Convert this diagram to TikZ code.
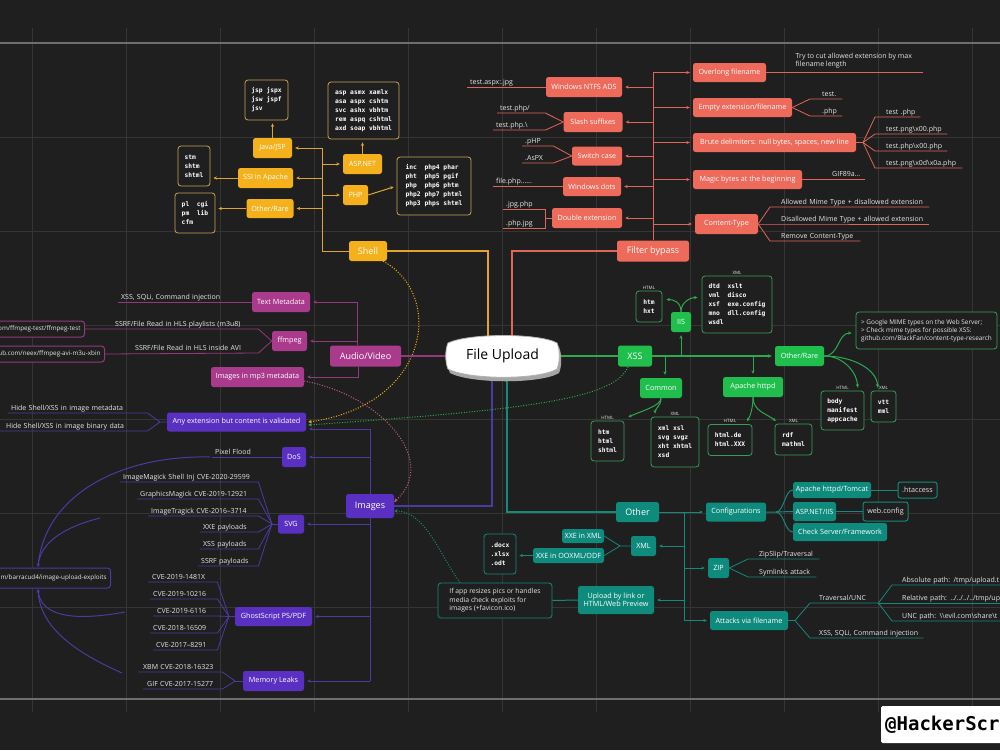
\documentclass[tikz,border=0pt]{standalone}
\usepackage{fontspec}
\setmainfont{Open Sans}
\setmonofont{DejaVu Sans Mono}
\usetikzlibrary{arrows.meta}
\pgfdeclarelayer{back}
\pgfdeclarelayer{lines}
\pgfsetlayers{back,lines,main}
\definecolor{bg}{HTML}{1F1F1F}
\definecolor{gridc}{HTML}{353535}
\definecolor{gridb}{HTML}{6E6E6E}
\definecolor{txt}{HTML}{E6E6E6}
\definecolor{cOr}{HTML}{F4B11C}
\definecolor{cOrL}{HTML}{E0A530}
\definecolor{cOrB}{HTML}{C9A255}
\definecolor{cRed}{HTML}{EE6A5A}
\definecolor{cRedL}{HTML}{E0655A}
\definecolor{cMag}{HTML}{A93A8C}
\definecolor{cMagL}{HTML}{94387E}
\definecolor{cPink}{HTML}{C25A8E}
\definecolor{cInd}{HTML}{5A30C2}
\definecolor{cIndL}{HTML}{4D3AA0}
\definecolor{cGrn}{HTML}{1FBE4D}
\definecolor{cGrnL}{HTML}{2DA950}
\definecolor{cGrnB}{HTML}{3A9C58}
\definecolor{cTeal}{HTML}{0F8B7E}
\definecolor{cTealL}{HTML}{14897C}
\tikzset{
  nb/.style={rounded corners=2.5pt, inner sep=1pt, align=center, text=white, font=\fontsize{7.2}{8.5}\selectfont},
  bigf/.style={font=\fontsize{9}{10}\selectfont},
  sz/.style 2 args={minimum width=#1pt, minimum height=#2pt},
  orn/.style={nb, fill=cOr},
  rdn/.style={nb, fill=cRed},
  mgn/.style={nb, fill=cMag},
  inn/.style={nb, fill=cInd},
  gnn/.style={nb, fill=cGrn},
  tln/.style={nb, fill=cTeal},
  codebox/.style={draw, line width=0.8pt, rounded corners=3pt, fill=bg, inner xsep=5pt, inner ysep=3pt, align=left, text=white, font=\ttfamily\bfseries\fontsize{6.3}{9}\selectfont},
  notebox/.style={draw, line width=0.8pt, rounded corners=3pt, fill=bg, inner xsep=5pt, inner ysep=3pt, align=left, text=txt, font=\fontsize{6.4}{8}\selectfont},
  tlab/.style={font=\fontsize{4.5}{5}\selectfont, text=txt, inner sep=1pt},
  ulab/.style={font=\fontsize{7}{8}\selectfont, text=txt, inner xsep=3pt, inner ysep=1.2pt, text height=5.2pt, text depth=1.6pt, anchor=south west, align=left,
    execute at begin node={\leavevmode\hbox\bgroup}, execute at end node={\egroup}},
  lnTk/.style={line width=1.6pt},
  lnN/.style={line width=1pt},
  lnF/.style={line width=0.8pt},
  arrw/.style={lnN, -{Stealth[length=3.5pt,width=3.2pt]}, shorten >=3pt},
  dotcurve/.style={line width=1pt, dash pattern=on 1pt off 1.6pt, -{Stealth[length=3.5pt,width=3.2pt]}},
  lnO/.style={draw=cOrL, lnN}, arO/.style={draw=cOrL, arrw},
  lnR/.style={draw=cRedL, lnN}, arR/.style={draw=cRedL, arrw},
  lnM/.style={draw=cMagL, lnN}, arM/.style={draw=cMagL, arrw},
  lnI/.style={draw=cIndL, lnN}, arI/.style={draw=cIndL, arrw},
  lnG/.style={draw=cGrnL, lnN}, arG/.style={draw=cGrnL, arrw},
  lnT/.style={draw=cTealL, lnN}, arT/.style={draw=cTealL, arrw},
}
\begin{document}
\begin{tikzpicture}[x=1pt,y=-1pt]
\useasboundingbox (0,0) rectangle (1000,750);
\begin{pgfonlayer}{back}
\fill[bg] (0,0) rectangle (1000,750);
\foreach \gx in {32,126,...,972} \draw[gridc, line width=1pt] (\gx,28) -- (\gx,712);
\foreach \gy in {137,231,...,607} \draw[gridc, line width=1pt] (0,\gy) -- (1000,\gy);
\draw[gridb, line width=1.6pt] (0,43) -- (1000,43);
\draw[gridb, line width=1.6pt] (0,699) -- (1000,699);
\end{pgfonlayer}

% ---------- centre ----------
\fill[gray!70] (450,347) .. controls (471,337) and (541,337) .. (559,347) .. controls (562,354) and (562,366) .. (559,373) .. controls (541,384) and (471,384) .. (450,373) .. controls (447,366) and (447,354) .. (450,347) -- cycle;
\filldraw[fill=white, draw=gray!60, line width=0.8pt] (448,343) .. controls (469,333) and (539,333) .. (557,343) .. controls (560,350) and (560,362) .. (557,369) .. controls (539,380) and (469,380) .. (448,369) .. controls (445,362) and (445,350) .. (448,343) -- cycle;
\node[font=\fontsize{14}{16}\selectfont, text=black, minimum width=110pt, minimum height=36pt, inner sep=0pt] (fu) at (502.5,356) {File Upload};

% ---------- orange : Shell ----------
\node[orn, bigf, sz={38}{20}] (shell) at (368,251) {Shell};
\node[orn, sz={39}{20}] (java) at (272.5,148) {Java/JSP};
\node[orn, sz={55}{20}] (ssi) at (265.5,178) {SSI in Apache};
\node[orn, sz={47}{19}] (othr) at (270,208.5) {Other/Rare};
\node[orn, sz={39}{20}] (asp) at (362.5,164) {ASP.NET};
\node[orn, sz={25}{20}] (php) at (355.5,195) {PHP};
\node[codebox, draw=cOrB, sz={43}{40}] (javabox) at (266.5,100) {jsp~jspx\\jsw~jspf\\jsv};
\node[codebox, draw=cOrB, sz={71}{57}] (aspbox) at (363.5,110.5) {asp~asmx~xamlx\\asa~aspx~cshtm\\svc~ashx~vbhtm\\rem~aspq~cshtml\\axd~soap~vbhtml};
\node[codebox, draw=cOrB, sz={74}{58}] (phpbox) at (434,186) {inc~~php4~phar\\pht~~php5~pgif\\php~~php6~phtm\\php2~php7~phtml\\php3~phps~shtml};
\node[codebox, draw=cOrB, sz={32}{40}] (ssibox) at (194,166) {stm\\shtm\\shtml};
\node[codebox, draw=cOrB, sz={40}{40}] (othbox) at (195,213) {pl~~cgi\\pm~~lib\\cfm};

% ---------- red : Filter bypass ----------
\node[rdn, bigf, sz={72}{21}] (fb) at (653,251) {Filter bypass};
\node[rdn, sz={76}{20}] (ntfs) at (584,87) {Windows NTFS ADS};
\node[rdn, sz={59}{20}] (slash) at (593,122) {Slash suffixes};
\node[rdn, sz={50}{19}] (swc) at (597,156) {Switch case};
\node[rdn, sz={58}{19}] (wdots) at (592,186.5) {Windows dots};
\node[rdn, sz={70}{20}] (dext) at (587,218) {Double extension};
\node[rdn, sz={73}{19}] (ovl) at (729.5,72.5) {Overlong filename};
\node[rdn, sz={99}{19}] (emp) at (742.5,107.5) {Empty extension/filename};
\node[rdn, sz={163}{19}] (brute) at (774.5,142.5) {Brute delimiters: null bytes, spaces, new line};
\node[rdn, sz={109}{19}] (magic) at (747.5,179.5) {Magic bytes at the beginning};
\node[rdn, sz={63}{20}] (ctype) at (726.5,224) {Content-Type};

\node[ulab, text width=73pt] (r1) at (467,87) {test.aspx:.jpg};
\node[ulab, text width=42pt] (r2) at (497,113) {test.php/};
\node[ulab, text width=46pt] (r3) at (493,130) {test.php.\textbackslash};
\node[ulab, text width=25pt] (r4) at (522,146) {.pHP};
\node[ulab, text width=25pt] (r5) at (522,163) {.AsPX};
\node[ulab, text width=64pt] (r6) at (493,186.5) {file.php......};
\node[ulab, text width=36pt] (r7) at (503,209) {.jpg.php};
\node[ulab, text width=36pt] (r8) at (503,228) {.php.jpg};
\node[font=\fontsize{7}{8}\selectfont, text=txt, anchor=south west, align=left, inner sep=1.5pt] (r9) at (794,70) {Try to cut allowed extension by max\\filename length};
\coordinate (ovlend) at (923,72.5);
\node[ulab, text width=26pt] (r10) at (810,99) {\hspace*{9pt}test.};
\node[ulab, text width=26pt] (r11) at (810,116) {\hspace*{9pt}.php};
\node[ulab, text width=39pt] (r12) at (875,117) {\hspace*{8pt}test .php};
\node[ulab, text width=66pt] (r13) at (875,134) {\hspace*{8pt}test.png\textbackslash x00.php};
\node[ulab, text width=66pt] (r14) at (875,151) {\hspace*{8pt}test.php\textbackslash x00.php};
\node[ulab, text width=81pt] (r15) at (875,168) {\hspace*{8pt}test.png\textbackslash x0d\textbackslash x0a.php};
\coordinate (bf) at (863,142.5);
\node[ulab, text width=30pt] (r16) at (829,179.5) {GIF89a...};
\node[ulab, text width=153pt] (r17) at (770,207) {\hspace*{8pt}Allowed Mime Type + disallowed extension};
\node[ulab, text width=153pt] (r18) at (770,224) {\hspace*{8pt}Disallowed Mime Type + allowed extension};
\node[ulab, text width=84pt] (r19) at (770,241) {\hspace*{8pt}Remove Content-Type};

% ---------- magenta : Audio/Video ----------
\node[mgn, bigf, sz={71}{21}] (av) at (365.5,356) {Audio/Video};
\node[mgn, sz={58}{20}] (tm) at (281,302) {Text Metadata};
\node[mgn, sz={35}{20}] (ff) at (289.5,341) {ffmpeg};
\node[mgn, sz={93}{20}] (mp3) at (257.5,377) {Images in mp3 metadata};
\node[ulab, text width=128pt] (m1) at (118,302) {XSS, SQLi, Command injection};
\node[ulab, text width=167pt] (m2) at (85,329) {\hspace*{27pt}SSRF/File Read in HLS playlists (m3u8)};
\node[ulab, text width=147pt] (m3) at (105,353) {\hspace*{27pt}SSRF/File Read in HLS inside AVI};
\node[draw=cMagL, lnN, rounded corners=3pt, fill=bg, text=txt, font=\fontsize{6.3}{8}\selectfont, anchor=east, text width=100pt, align=right, inner xsep=4pt, minimum height=16pt] (gh1) at (85,329) {om/ffmpeg-test/ffmpeg-test};
\node[draw=cMagL, lnN, rounded corners=3pt, fill=bg, text=txt, font=\fontsize{6.3}{8}\selectfont, anchor=east, text width=120pt, align=right, inner xsep=4pt, minimum height=16pt] (gh2) at (105,354) {ub.com/neex/ffmpeg-avi-m3u-xbin};

% ---------- indigo : Images ----------
\node[inn, bigf, sz={48}{24}] (img) at (370,506) {Images};
\node[inn, sz={139}{19}] (anyx) at (236.5,422) {Any extension but content is validated};
\node[inn, sz={24}{20}] (dos) at (294,457) {DoS};
\node[inn, sz={26}{19}] (svg) at (291,524) {SVG};
\node[inn, sz={77}{19}] (gs) at (273.5,616.5) {GhostScript PS/PDF};
\node[inn, sz={61}{20}] (mem) at (273.5,681) {Memory Leaks};
\node[ulab, text width=133pt] (i1) at (8,413) {Hide Shell/XSS in image metadata};
\node[ulab, text width=141pt] (i2) at (0,431) {\hspace*{3pt}Hide Shell/XSS in image binary data};
\coordinate (anf) at (160,422);
\node[ulab, text width=64pt] (i3) at (212,457) {Pixel Flood};
\node[ulab, text width=132pt] (s1) at (120,482) {ImageMagick Shell Inj CVE-2020-29599};
\node[ulab, text width=115pt] (s2) at (137,499) {GraphicsMagick CVE-2019-12921};
\node[ulab, text width=104pt] (s3) at (148,516) {ImageTragick CVE-2016–3714};
\node[ulab, text width=52pt] (s4) at (200,532) {XXE payloads};
\node[ulab, text width=52pt] (s5) at (200,549) {XSS payloads};
\node[ulab, text width=54pt] (s6) at (198,566) {SSRF payloads};
\coordinate (svf) at (272,524);
\node[ulab, text width=63pt] (g1) at (148,582) {\hspace*{1pt}CVE-2019-1481X};
\node[ulab, text width=61pt] (g2) at (150,599) {\hspace*{0pt}CVE-2019-10216};
\node[ulab, text width=58pt] (g3) at (153,616) {\hspace*{1pt}CVE-2019-6116};
\node[ulab, text width=61pt] (g4) at (150,633) {\hspace*{0pt}CVE-2018-16509};
\node[ulab, text width=58pt] (g5) at (153,650) {\hspace*{0pt}CVE-2017–8291};
\coordinate (gsf) at (229,616.5);
\node[ulab, text width=78pt] (x1) at (138,672) {\hspace*{2pt}XBM CVE-2018-16323};
\node[ulab, text width=73pt] (x2) at (143,689) {\hspace*{1pt}GIF CVE-2017-15277};
\coordinate (mmf) at (235,681);
\node[draw=cIndL, lnN, rounded corners=3pt, fill=bg, text=txt, font=\fontsize{6.3}{8}\selectfont, anchor=east, text width=125pt, align=right, inner xsep=4pt, minimum height=20pt] (ex) at (111,578) {m/barracud4/image-upload-exploits};
\coordinate (exT) at (38,567);
\coordinate (exB) at (38,589);
\coordinate (cvb) at (100,518);
\coordinate (cvc) at (125,612);
\coordinate (cvd) at (122,673);

% ---------- green : XSS ----------
\node[gnn, bigf, sz={34}{21}] (xss) at (635,356) {XSS};
\node[gnn, sz={20}{20}] (iis) at (681,322) {IIS};
\node[gnn, sz={42}{20}] (com) at (661,388) {Common};
\node[gnn, sz={60}{20}] (ap) at (753,387) {Apache httpd};
\node[gnn, sz={49}{20}] (orr) at (799.5,356) {Other/Rare};
\node[codebox, draw=cGrnB, sz={26}{31}, label={[tlab]above:HTML}] (iishtml) at (649,306.5) {htm\\hxt};
\node[codebox, draw=cGrnB, sz={70}{57}, label={[tlab]above:XML}] (iisxml) at (737,304.5) {dtd~~xslt\\vml~~disco\\xsf~~exe.config\\mno~~dll.config\\wsdl};
\node[codebox, draw=cGrnB, sz={33}{40}, label={[tlab]above:HTML}] (comhtml) at (607.5,441) {htm\\html\\shtml};
\node[codebox, draw=cGrnB, sz={48}{50}, label={[tlab]above:XML}] (comxml) at (675,442) {xml~xsl\\svg~svgz\\xht~xhtml\\xsd};
\node[codebox, draw=cGrnB, sz={44}{31}, label={[tlab]above:HTML}] (aphtml) at (730,440) {html.de\\html.XXX};
\node[codebox, draw=cGrnB, sz={37}{31}, label={[tlab]above:XML}] (apxml) at (793.5,439.5) {rdf\\mathml};
\node[codebox, draw=cGrnB, sz={43}{39}, label={[tlab]above:HTML}] (orhtml) at (842.5,410.5) {body\\manifest\\appcache};
\node[codebox, draw=cGrnB, sz={25}{31}, label={[tlab]above:XML}] (orxml) at (883.5,406.5) {vtt\\mml};
\node[notebox, draw=cGrnB, sz={141}{37}] (note) at (926.5,330.5) {> Google MIME types on the Web Server;\\> Check mime types for possible XSS:\\github.com/BlackFan/content-type-research};

% ---------- teal : Other ----------
\node[tln, bigf, sz={43}{20}] (oth) at (637.5,512) {Other};
\node[tln, sz={60}{19}] (cfg) at (736,512) {Configurations};
\node[tln, sz={25}{20}] (xmlT) at (643.5,546) {XML};
\node[tln, sz={21}{20}] (zip) at (718.5,568) {ZIP};
\node[tln, sz={76}{28}] (upl) at (616,600) {Upload by link or\\HTML/Web Preview};
\node[tln, sz={78}{19}] (att) at (749,620.5) {Attacks via filename};
\node[tln, sz={42}{14}] (xxe1) at (583,536) {XXE in XML};
\node[tln, sz={71}{15}] (xxe2) at (568.5,555.5) {XXE in OOXML/ODF};
\node[tln, sz={78}{16}] (tom) at (832,490) {Apache httpd/Tomcat};
\node[tln, sz={43}{19}] (aspiis) at (814.5,511.5) {ASP.NET/IIS};
\node[tln, sz={94}{18}] (chk) at (840,532) {Check Server/Framework};
\node[nb, draw=cTealL, lnN, fill=bg, text=txt, sz={39}{16}] (htac) at (917.5,490) {.htaccess};
\node[nb, draw=cTealL, lnN, fill=bg, text=txt, sz={45}{19}] (webc) at (885.5,511.5) {web.config};
\node[codebox, draw=cTealL, sz={32}{40}] (docs) at (500,554) {.docx\\.xlsx\\.odt};
\node[notebox, draw=cTealL, sz={114}{35}, font=\fontsize{6.8}{8.5}\selectfont] (rnote) at (495,600.5) {If app resizes pics or handles\\media check exploits for\\images (+favicon.ico)};
\coordinate (tt) at (684,512);
\coordinate (tb) at (684,620.5);
\coordinate (xmf) at (620,546);
\coordinate (cff) at (776,512);
\coordinate (attf) at (795,620.5);
\node[ulab, text width=65pt] (t1) at (748,559) {\hspace*{8pt}ZipSlip/Traversal};
\node[ulab, text width=62pt] (t2) at (748,577) {\hspace*{8pt}Symlinks attack};
\node[ulab, text width=62pt] (t3) at (810,603) {\hspace*{6pt}Traversal/UNC};
\node[ulab, text width=107pt] (t4) at (810,638) {\hspace*{6pt}XSS, SQLi, Command injection};
\node[ulab, text width=102pt] (t5) at (892,585) {\hspace*{7pt}Absolute path: /tmp/upload.t};
\node[ulab, text width=102pt] (t6) at (892,603) {\hspace*{7pt}Relative path: ../../../../tmp/up};
\node[ulab, text width=102pt] (t7) at (892,621) {\hspace*{7pt}UNC path: \textbackslash\textbackslash evil.com\textbackslash share\textbackslash t};

% ---------- watermark ----------
\fill[white, rounded corners=1.5pt] (881,706) rectangle (1004,743);
\node[anchor=west, font=\ttfamily\bfseries\fontsize{19}{20}\selectfont, text=black, inner sep=0pt] (wm) at (885,725) {@HackerScr};

% ================= connectors =================
\begin{pgfonlayer}{lines}
% orange
\draw[lnTk, cOrL] ([xshift=-14.5pt]fu.north) |- (shell.east);
\coordinate (ot) at (322,148);
\draw[lnO] (shell.west) -| (ot);
\draw[arO] (ot) -- (java.east);
\draw[arO] (ot |- ssi.east) -- (ssi.east);
\draw[arO] (ot |- othr.east) -- (othr.east);
\draw[arO] (ot |- asp.west) -- (asp.west);
\draw[arO] (ot |- php.west) -- (php.west);
\draw[arO] (java.north) -- (java.north |- javabox.south);
\draw[arO] (asp.north) -- (asp.north |- aspbox.south);
\draw[arO] (php.east) -- (phpbox.west);
\draw[arO] (ssi.west) -- (ssibox.east |- ssi.west);
\draw[arO] (othr.west) -- (othbox.east |- othr.west);
\draw[dotcurve, draw=cOr] ([xshift=-4pt]shell.south east) .. controls (445,295) and (430,405) .. ([xshift=2pt]anyx.east);
% red
\draw[lnTk, cRedL] ([xshift=9.5pt]fu.north) |- (fb.west);
\draw[lnR] (fb.north) -- (fb.north |- ovl.west);
\foreach \n in {ntfs,slash,swc,wdots,dext} \draw[arR] (fb.north |- \n.east) -- (\n.east);
\foreach \n in {ovl,emp,brute,magic,ctype} \draw[arR] (fb.north |- \n.west) -- (\n.west);
\draw[lnR] (ntfs.west) -- (r1.south west);
\draw[lnR, lnF] (slash.west) -- (r2.south east) -- (r2.south west);
\draw[lnR, lnF] (slash.west) -- (r3.south east) -- (r3.south west);
\draw[lnR, lnF] (swc.west) -- (r4.south east) -- (r4.south west);
\draw[lnR, lnF] (swc.west) -- (r5.south east) -- (r5.south west);
\draw[lnR] (wdots.west) -- (r6.south west);
\draw[lnR] (dext.west) -- (r7.south east |- dext.west);
\draw[lnR, lnF] (r7.south west) -- (r7.south east) -- (r8.south east) -- (r8.south west);
\draw[lnR] (ovl.east) -- (ovlend);
\draw[lnR, lnF] (emp.east) -- (r10.south west) -- (r10.south east);
\draw[lnR, lnF] (emp.east) -- (r11.south west) -- (r11.south east);
\draw[lnR] (brute.east) -- (bf);
\foreach \n in {r12,r13,r14,r15} \draw[lnR, lnF] (bf) -- (\n.south west) -- (\n.south east);
\draw[lnR] (magic.east) -- (r16.south east);
\foreach \n in {r17,r18,r19} \draw[lnR, lnF] (ctype.east) -- (\n.south west) -- (\n.south east);
% magenta
\draw[lnTk, cMagL] (fu.west) -- (av.east);
\coordinate (mt) at (357,302);
\draw[lnM] ([xshift=-8.5pt]av.north) -- (mt);
\draw[arM] (mt) -- (tm.east);
\draw[arM] (mt |- ff.east) -- (ff.east);
\draw[arM] ([xshift=-7.5pt]av.south) |- (mp3.east);
\draw[lnM] (tm.west) -- (m1.south west);
\draw[lnM, lnF] (ff.west) -- (m2.south east) -- (gh1.east);
\draw[lnM, lnF] (ff.west) -- (m3.south east) -- (gh2.east);
\draw[dotcurve, draw=cPink] ([yshift=-4pt]mp3.east) .. controls (380,395) and (440,460) .. ([yshift=4pt]img.east);
% indigo
\draw[lnTk, cIndL] ([xshift=-10.5pt]fu.south) |- (img.east);
\draw[arI] (img.north) |- ([yshift=-7pt]anyx.east);
\draw[arI] (img.north |- dos.east) -- (dos.east);
\draw[lnI] (img.south) -- (img.south |- mem.east);
\draw[arI] (img.south |- svg.east) -- (svg.east);
\draw[arI] (img.south |- gs.east) -- (gs.east);
\draw[arI] (img.south |- mem.east) -- (mem.east);
\draw[lnI, lnF] (anyx.west) -- (anf) -- (i1.south east) -- (i1.south west);
\draw[lnI, lnF] (anf) -- (i2.south east) -- (i2.south west);
\draw[lnI] (dos.west) -- (i3.south west);
\draw[lnI] (svg.west) -- (svf);
\foreach \n in {s1,s2,s3,s4,s5,s6} \draw[lnI, lnF] (svf) -- (\n.south east) -- (\n.south west);
\draw[lnI] (gs.west) -- (gsf);
\foreach \n in {g1,g2,g3,g4,g5} \draw[lnI, lnF] (gsf) -- (\n.south east) -- (\n.south west);
\draw[lnI] (mem.west) -- (mmf);
\foreach \n in {x1,x2} \draw[lnI, lnF] (mmf) -- (\n.south east) -- (\n.south west);
\draw[arI, shorten >=0pt] ([xshift=-2pt]i3.south west) .. controls (120,455) and (45,495) .. (exT);
\draw[arI, shorten >=0pt] (cvb) .. controls (60,528) and (40,545) .. (exT);
\draw[arI, shorten >=0pt] (cvc) .. controls (60,624) and (40,610) .. (exB);
\draw[arI, shorten >=0pt] (cvd) .. controls (70,650) and (40,625) .. (exB);
% green
\draw[lnTk, cGrnL] (fu.east) -- (xss.west);
\draw[lnG, lnTk, -{Stealth[length=4pt,width=3.6pt]}, shorten >=3pt] (xss.east) -- (orr.west);
\draw[arG] ([xshift=4pt]com.north |- xss.east) -- ([xshift=4pt]com.north);
\draw[arG] (iis.south |- xss.east) -- (iis.south);
\draw[arG] (ap.north |- xss.east) -- (ap.north);
\draw[arG, shorten >=1pt] (iis.north) .. controls +(0,-10) and +(8,0) .. ([xshift=3pt,yshift=7pt]iishtml.east);
\draw[arG, shorten >=1pt] (iis.north) .. controls +(0,-10) and +(-8,0) .. ([xshift=-3pt,yshift=7pt]iisxml.west);
\draw[arG, shorten >=1pt] (com.south) .. controls +(0,8) and +(12,-6) .. ([xshift=3pt,yshift=3pt]comhtml.north east);
\draw[arG, shorten >=1pt] (com.south) .. controls +(0,8) and +(0,-6) .. ([xshift=-20pt,yshift=2pt]comxml.north);
\draw[arG, shorten >=1pt] (ap.south) .. controls +(0,14) and +(-10,-8) .. ([xshift=2pt,yshift=2pt]apxml.north west);
\draw[arG, shorten >=1pt] (ap.south) .. controls +(0,10) and +(4,-6) .. ([xshift=-6pt,yshift=2pt]aphtml.north east);
\draw[arG, shorten >=1pt] (orr.east) .. controls +(15,0) and +(-15,0) .. ([xshift=-3pt,yshift=-2.5pt]note.west);
\draw[arG, shorten >=1pt] (orr.east) .. controls +(20,0) and +(0,-15) .. ([xshift=15pt,yshift=2pt]orhtml.north);
\draw[arG, shorten >=1pt] (orr.east) .. controls +(30,0) and +(0,-18) .. ([xshift=-6pt,yshift=2pt]orxml.north);
\draw[dotcurve, draw=cGrnL] ([xshift=-7pt]xss.south) .. controls (615,400) and (520,410) .. ([xshift=2pt,yshift=-3pt]anyx.east);
% teal
\draw[lnTk, cTealL] ([xshift=4.5pt]fu.south) |- (oth.west);
\draw[arT] (oth.east) -- (cfg.west);
\draw[lnT] (tt) -- (tb);
\draw[arT] (tt |- xmlT.east) -- (xmlT.east);
\draw[arT] (tt |- zip.west) -- (zip.west);
\draw[arT] (tt |- upl.east) -- (upl.east);
\draw[arT] (tb) -- (att.west);
\draw[lnT, lnF] (xmlT.west) -- (xmf) -- (xxe1.east);
\draw[lnT, lnF] (xmf) -- (xxe2.east);
\draw[arT] (xxe2.west) -- (docs.east |- xxe2.west);
\draw[lnT] (upl.west) -- (rnote.east);
\draw[lnT] (cfg.east) -- (cff) -- (aspiis.west);
\draw[lnT] (cff) .. controls +(8,0) and +(-8,0) .. (tom.west);
\draw[lnT] (cff) .. controls +(8,0) and +(-8,0) .. (chk.west);
\draw[lnT] (tom.east) -- (htac.west);
\draw[lnT] (aspiis.east) -- (webc.west);
\draw[lnT, lnF] (zip.east) -- (t1.south west) -- (t1.south east);
\draw[lnT, lnF] (zip.east) -- (t2.south west) -- (t2.south east);
\draw[lnT] (att.east) -- (attf);
\draw[lnT, lnF] (attf) -- (t3.south west) -- (t3.south east);
\draw[lnT, lnF] (attf) -- (t4.south west) -- (t4.south east);
\foreach \n in {t5,t6,t7} \draw[lnT, lnF] (t3.south east) -- (\n.south west) -- (\n.south east);
\draw[dotcurve, draw=cTealL] ([xshift=-35pt]rnote.north) .. controls (440,555) and (425,511) .. ([yshift=-5pt]img.east);
\end{pgfonlayer}
\end{tikzpicture}
\end{document}
